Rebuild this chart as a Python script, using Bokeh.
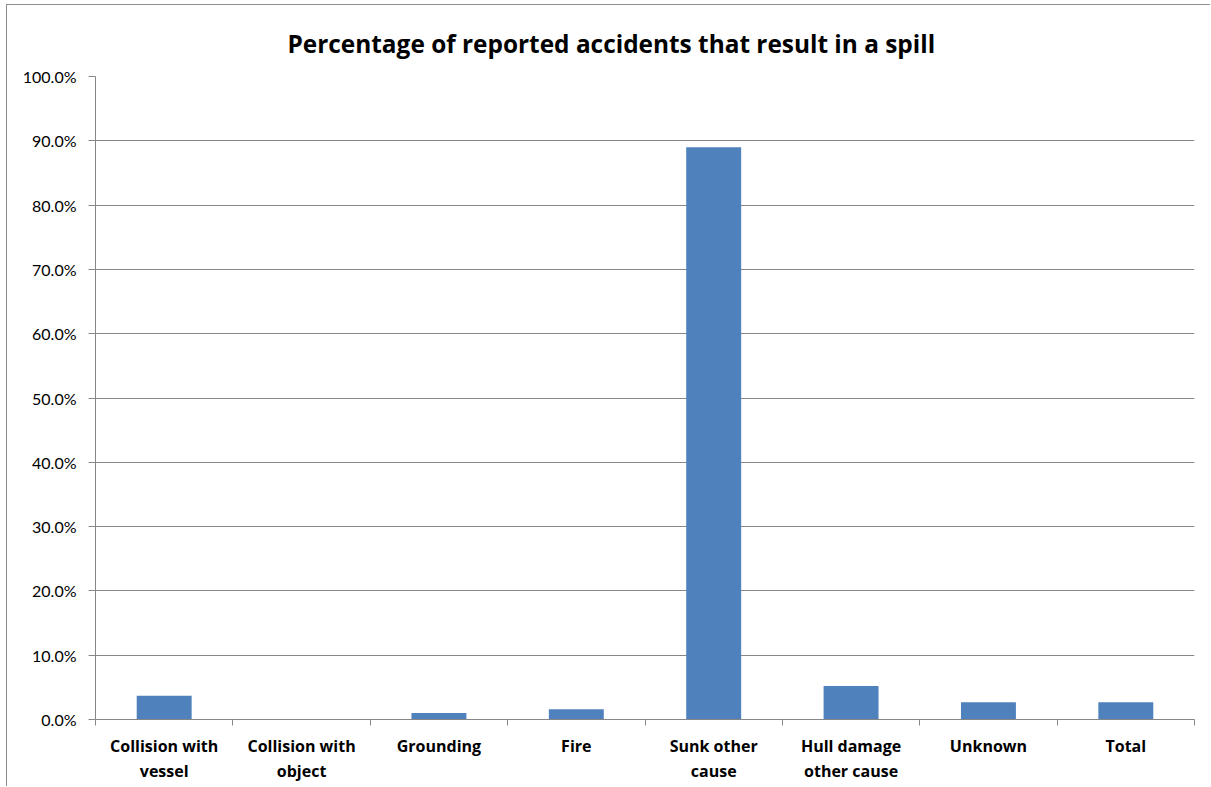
from bokeh.plotting import figure
from bokeh.models import Range1d, LinearAxis, FixedTicker, ColumnDataSource
from bokeh.embed import file_html
from bokeh.resources import INLINE

# Share of reported accidents (by cause) that ended in a spill, in percent
categories = ["Collision with vessel", "Collision with object", "Grounding", "Fire",
              "Sunk other cause", "Hull damage other cause", "Unknown", "Total"]
category_labels = ["Collision with\nvessel", "Collision with\nobject", "Grounding", "Fire",
                   "Sunk other\ncause", "Hull damage\nother cause", "Unknown", "Total"]
spill_pct = [3.7, 0.0, 1.0, 1.6, 89.0, 5.2, 2.7, 2.7]

y_ticks = [0, 10, 20, 30, 40, 50, 60, 70, 80, 90, 100]
y_tick_labels = ["0.0%", "10.0%", "20.0%", "30.0%", "40.0%", "50.0%",
                 "60.0%", "70.0%", "80.0%", "90.0%", "100.0%"]

TITLE = "Percentage of reported accidents that result in a spill"
BAR = "#4F81BD"
GRAY = "#868686"
FONT = "Lato"
BOLD_FONT = "Open Sans"

n = len(categories)
slot_centers = [i + 0.5 for i in range(n)]      # middle of each category slot
slot_edges = list(range(n + 1))                 # boundaries between categories

p = figure(width=1204, height=782, output_backend="svg", toolbar_location=None,
           x_range=Range1d(0, n), y_range=Range1d(0, 100),
           x_axis_location=None, y_axis_location=None,
           min_border_left=88, min_border_right=17, min_border_top=71,
           min_border_bottom=68)
p.styles = {"margin-left": "6px", "margin-top": "4px",
            "border-top": "1px solid #8c8c8c", "border-left": "1px solid #8c8c8c"}

p.title.text = TITLE
p.title.text_font = BOLD_FONT
p.title.text_font_size = "24.4px"
p.title.text_font_style = "bold"
p.title.text_color = "black"
p.title.align = "left"
p.title.offset = 192
p.title.standoff = 34

p.outline_line_color = None
p.background_fill_color = "white"
p.border_fill_color = "white"

# value axis
yax = LinearAxis(ticker=FixedTicker(ticks=y_ticks))
yax.major_label_overrides = {t: s for t, s in zip(y_ticks, y_tick_labels)}
yax.axis_line_color = GRAY
yax.major_tick_line_color = GRAY
yax.major_tick_in = 0
yax.major_tick_out = 7
yax.minor_tick_line_color = None
yax.major_label_standoff = 12
yax.major_label_text_font = FONT
yax.major_label_text_font_size = "16px"
yax.major_label_text_color = "black"
p.add_layout(yax, "left")

# baseline with separator ticks between categories
sep = LinearAxis(ticker=FixedTicker(ticks=slot_edges))
sep.major_label_overrides = {e: "" for e in slot_edges}
sep.axis_line_color = GRAY
sep.major_tick_line_color = GRAY
sep.major_tick_in = 0
sep.major_tick_out = 6
sep.minor_tick_line_color = None
sep.major_label_text_font_size = "1px"
sep.major_label_standoff = 0
p.add_layout(sep, "below")

# category names under each slot
cax = LinearAxis(ticker=FixedTicker(ticks=slot_centers))
cax.major_label_overrides = {c: l for c, l in zip(slot_centers, category_labels)}
cax.axis_line_color = None
cax.major_tick_line_color = None
cax.major_tick_in = 0
cax.major_tick_out = 0
cax.minor_tick_line_color = None
cax.major_label_standoff = 9
cax.major_label_text_font = BOLD_FONT
cax.major_label_text_font_size = "16px"
cax.major_label_text_font_style = "bold"
cax.major_label_text_color = "black"
cax.major_label_text_line_height = 1.15
p.add_layout(cax, "below")

p.ygrid.ticker = FixedTicker(ticks=y_ticks)
p.ygrid.grid_line_color = GRAY
p.xgrid.grid_line_color = None

src = ColumnDataSource(dict(x=slot_centers, top=spill_pct, cause=categories))
p.vbar(x="x", top="top", width=0.4, source=src, fill_color=BAR, line_color=None)

open("out.html", "w").write(file_html(p, INLINE))
